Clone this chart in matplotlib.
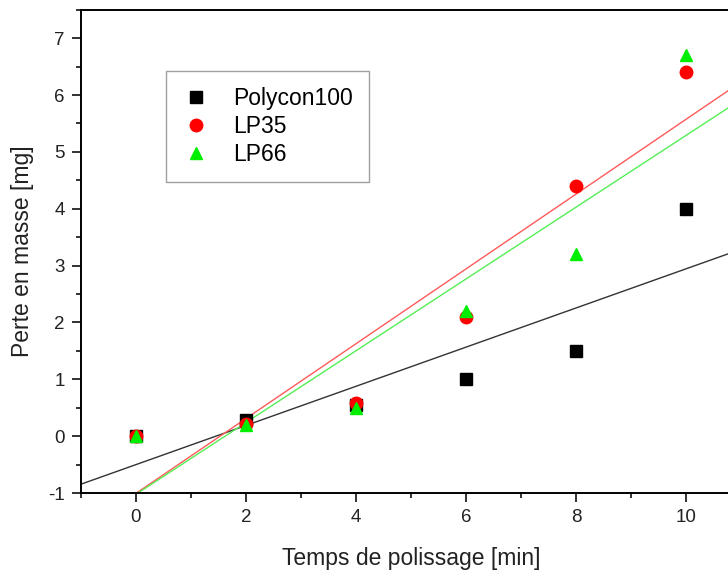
import matplotlib
matplotlib.use("Agg")
import matplotlib.pyplot as plt
from matplotlib.ticker import MultipleLocator
import numpy as np

plt.rcParams['font.family'] = ['Liberation Sans', 'DejaVu Sans']
plt.rcParams['axes.unicode_minus'] = False

temps = [0, 2, 4, 6, 8, 10]
polycon100 = [0.0, 0.28, 0.55, 1.0, 1.5, 4.0]
lp35 = [0.0, 0.22, 0.58, 2.1, 4.4, 6.4]
lp66 = [0.0, 0.20, 0.50, 2.2, 3.2, 6.7]

fig = plt.figure(figsize=(7.28, 5.72), dpi=100)
ax = fig.add_axes([0.111, 0.138, 0.907, 0.845])

# linear fits drawn across the whole axis, clipped by the frame
xfit = np.array([-1.0, 11.0])
series = [
    (polycon100, 'Polycon100', 's', 'black', '#333333', 8.5),
    (lp35, 'LP35', 'o', 'red', '#ff5a5a', 9),
    (lp66, 'LP66', '^', '#00ee00', '#55ee55', 9),
]
for vals, name, mk, col, lcol, ms in series:
    a, b = np.polyfit(temps, vals, 1)
    ax.plot(xfit, a * xfit + b, color=lcol, lw=1.0, zorder=2)
for vals, name, mk, col, lcol, ms in series:
    ax.plot(temps, vals, linestyle='none', marker=mk, color=col,
            markersize=ms, label=name, zorder=3)

ax.set_xlim(-1, 11)
ax.set_ylim(-1, 7.5)
ax.xaxis.set_major_locator(MultipleLocator(2))
ax.xaxis.set_minor_locator(MultipleLocator(1))
ax.yaxis.set_major_locator(MultipleLocator(1))
ax.yaxis.set_minor_locator(MultipleLocator(0.5))
ax.tick_params(which='both', direction='out', width=1.3, colors='#222222',
               labelsize=13.5, top=False, right=False)
ax.tick_params(which='major', length=6.5, pad=5)
ax.tick_params(which='minor', length=3.6)
for s in ax.spines.values():
    s.set_linewidth(1.4)

ax.set_xlabel('Temps de polissage [min]', fontsize=16.5, color='#222222', labelpad=15)
ax.set_ylabel('Perte en masse [mg]', fontsize=16.5, color='#222222', labelpad=10)

leg = ax.legend(loc='upper left', bbox_to_anchor=(0.129, 0.874), fontsize=16.5,
                frameon=True, fancybox=False, edgecolor='#888888', borderaxespad=0,
                handletextpad=1.0, borderpad=0.7, labelspacing=0.22, handlelength=1.25)
leg.get_frame().set_linewidth(1.0)

fig.savefig('out.png', dpi=100)
